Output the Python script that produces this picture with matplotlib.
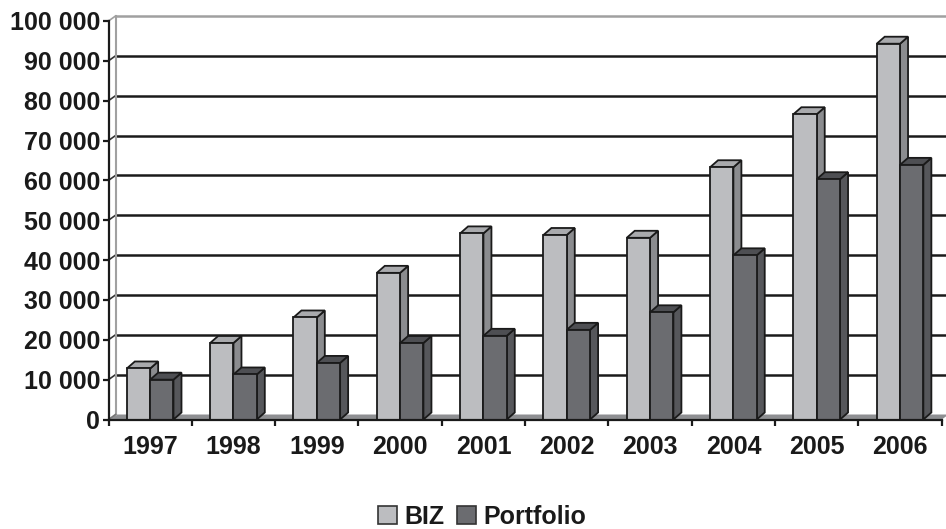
import matplotlib.pyplot as plt
from matplotlib.patches import Polygon, Patch

years = ["1997", "1998", "1999", "2000", "2001", "2002", "2003", "2004", "2005", "2006"]
biz = [12800, 19200, 25600, 36800, 46700, 46300, 45600, 63300, 76600, 94300]
portfolio = [10000, 11300, 14200, 19200, 21000, 22500, 26900, 41200, 60300, 63900]
yticks = [0, 10000, 20000, 30000, 40000, 50000, 60000, 70000, 80000, 90000, 100000]

W, H = 946, 529
fig = plt.figure(figsize=(W / 100, H / 100), dpi=100)
plt.rcParams['font.family'] = ['Liberation Sans', 'DejaVu Sans']

# front plot area in pixels
x0, x1 = 108.5, 941.7
y0, y1 = 419.5, 21
ax = fig.add_axes([x0 / W, (H - y0) / H, (x1 - x0) / W, (y0 - y1) / H])
ax.set_xlim(0, 10)
ax.set_ylim(0, 100000)

px_x = 10 / (x1 - x0)
px_y = 100000 / (y0 - y1)

# wall depth and bar depth (pixels)
wdx, wdy = 7 * px_x, 5 * px_y
bdx, bdy = 8 * px_x, 7 * px_y

xmax_back = (W + 5 - x0) * px_x

# floor
ax.add_patch(Polygon([(0, 0), (10, 0), (10 + wdx, wdy), (wdx, wdy)],
                     closed=True, facecolor="#8e8f92", edgecolor="none",
                     clip_on=False, zorder=1))

# gridlines on back wall and left wall
for v in yticks[1:]:
    color = "#a0a0a0" if v == 100000 else "#1a1a1a"
    ax.plot([wdx, xmax_back], [v + wdy, v + wdy], color=color, lw=1.8,
            clip_on=False, zorder=1, solid_capstyle="butt")
    ax.plot([0, wdx], [v, v + wdy], color=color if v == 100000 else "#333333",
            lw=1.2, clip_on=False, zorder=1)
# left wall back edge
ax.plot([wdx, wdx], [wdy, 100000 + wdy], color="#a0a0a0", lw=1.5,
        clip_on=False, zorder=1)
ax.plot([0, wdx], [0, wdy], color="#777777", lw=1.2, clip_on=False, zorder=1)

bw = 0.28
faces = [
    (biz, 0.22, "#bcbdc0", "#8b8c8f", "#a9aaad"),
    (portfolio, 0.50, "#6b6c70", "#56575b", "#4e4f53"),
]
for i in range(len(years)):
    for vals, off, front, side, top in faces:
        v = vals[i]
        l = i + off
        r = l + bw
        ax.add_patch(Polygon([(r, 0), (r + bdx, bdy), (r + bdx, v + bdy), (r, v)],
                             closed=True, facecolor=side, edgecolor="#1a1a1a",
                             lw=1.3, zorder=3, clip_on=False, joinstyle="miter"))
        ax.add_patch(Polygon([(l, v), (l + bdx, v + bdy), (r + bdx, v + bdy), (r, v)],
                             closed=True, facecolor=top, edgecolor="#1a1a1a",
                             lw=1.3, zorder=3, clip_on=False, joinstyle="miter"))
        ax.add_patch(Polygon([(l, 0), (r, 0), (r, v), (l, v)],
                             closed=True, facecolor=front, edgecolor="#1a1a1a",
                             lw=1.3, zorder=4, clip_on=False, joinstyle="miter"))

for s in ["top", "right"]:
    ax.spines[s].set_visible(False)
for s in ["left", "bottom"]:
    ax.spines[s].set_color("#1a1a1a")
    ax.spines[s].set_linewidth(1.6)
    ax.spines[s].set_zorder(5)

ax.set_yticks(yticks)
ax.set_yticklabels([f"{v:,}".replace(",", " ") for v in yticks])
ax.set_xticks(range(11), minor=False)
ax.set_xticklabels([])
ax.set_xticks([i + 0.5 for i in range(10)], minor=True)
ax.set_xticklabels(years, minor=True)
ax.tick_params(axis="x", which="minor", length=0, pad=11)
ax.tick_params(axis="x", which="major", length=4, width=1.6, color="#1a1a1a")
ax.tick_params(axis="y", length=4, width=1.6, color="#1a1a1a", pad=2)
for lab in ax.get_yticklabels() + ax.get_xticklabels(minor=True):
    lab.set_fontsize(18)
    lab.set_fontweight("bold")
    lab.set_color("#1a1a1a")

handles = [Patch(facecolor="#bcbdc0", edgecolor="#333333", lw=1.2, label="BIZ"),
           Patch(facecolor="#6b6c70", edgecolor="#333333", lw=1.2, label="Portfolio")]
fig.legend(handles=handles, loc="center", bbox_to_anchor=(482 / W, 12 / H), ncol=2,
           frameon=False, prop={"size": 18, "weight": "bold"},
           handlelength=0.75, handleheight=0.75, handletextpad=0.3,
           columnspacing=0.5, labelcolor="#1a1a1a", borderpad=0)

fig.savefig("out.png", dpi=100)
